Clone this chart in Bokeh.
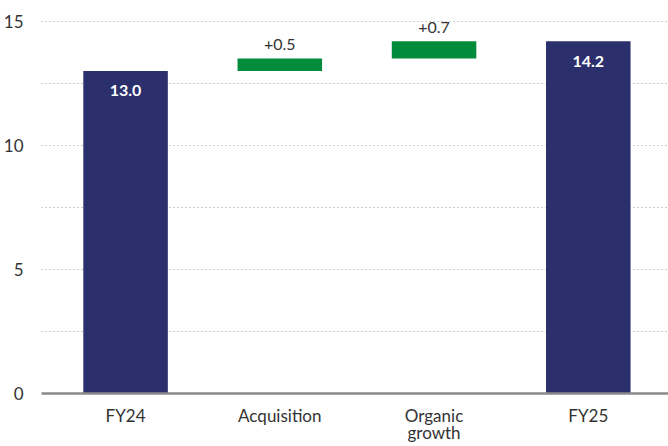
from bokeh.plotting import figure
from bokeh.models import ColumnDataSource, FixedTicker
from bokeh.core.properties import value
from bokeh.embed import file_html
from bokeh.resources import INLINE

# Waterfall: FY24 -> FY25 bridge
categories = ["FY24", "Acquisition", "Organic\ngrowth", "FY25"]
totals = {"FY24": 13.0, "FY25": 14.2}
changes = [0.5, 0.7]
change_labels = ["+0.5", "+0.7"]
y_ticks = [0, 5, 10, 15]
y_minor = [2.5, 7.5, 12.5]

FONT = "Lato"
NAVY = "#2b2f6b"
GREEN = "#008c3a"
TEXT = "#333333"

x_pos = list(range(len(categories)))

# total bars
total_src = ColumnDataSource(dict(
    x=[x_pos[0], x_pos[3]],
    top=[totals["FY24"], totals["FY25"]],
    label=[f"{totals['FY24']:.1f}", f"{totals['FY25']:.1f}"],
))

# floating change bars
bottoms = []
tops = []
running = totals["FY24"]
for c in changes:
    bottoms.append(running)
    running += c
    tops.append(running)
change_src = ColumnDataSource(dict(
    x=[x_pos[1], x_pos[2]],
    bottom=bottoms,
    top=tops,
    label=change_labels,
))

p = figure(width=668, height=446, output_backend="svg", toolbar_location=None,
           x_range=(-0.545, 3.52), y_range=(0, 15.84),
           min_border_left=39, min_border_right=0, min_border_top=0,
           min_border_bottom=10)
p.outline_line_color = None
p.background_fill_color = "white"
p.border_fill_color = "white"

bw = 0.548
p.vbar(x="x", top="top", bottom=0, width=bw, source=total_src,
       fill_color=NAVY, line_color=None)
p.vbar(x="x", top="top", bottom="bottom", width=bw, source=change_src,
       fill_color=GREEN, line_color=None)

p.text(x="x", y="top", text="label", source=total_src,
       text_font=value(FONT), text_font_size="16px", text_font_style="bold",
       text_color="white", text_align="center", text_baseline="middle",
       y_offset=20)
p.text(x="x", y="top", text="label", source=change_src,
       text_font=value(FONT), text_font_size="16px",
       text_color=TEXT, text_align="center", text_baseline="middle",
       y_offset=-14)

# category axis along the zero line
p.xaxis.ticker = FixedTicker(ticks=x_pos)
p.xaxis.major_label_overrides = {i: c for i, c in zip(x_pos, categories)}
p.xaxis.axis_line_color = "#8a8a8a"
p.xaxis.axis_line_width = 2.5
p.xaxis.major_tick_line_color = None
p.xaxis.minor_tick_line_color = None
p.xaxis.major_tick_out = 0
p.xaxis.minor_tick_out = 0
p.xaxis.major_label_text_font = FONT
p.xaxis.major_label_text_font_size = "17px"
p.xaxis.major_label_text_color = TEXT
p.xaxis.major_label_text_line_height = 0.84
p.xaxis.major_label_standoff = 11

p.yaxis.ticker = FixedTicker(ticks=y_ticks, minor_ticks=y_minor)
p.yaxis.axis_line_color = None
p.yaxis.major_tick_line_color = None
p.yaxis.minor_tick_line_color = None
p.yaxis.major_tick_out = 0
p.yaxis.major_label_text_font = FONT
p.yaxis.major_label_text_font_size = "17px"
p.yaxis.major_label_text_color = TEXT
p.yaxis.major_label_standoff = 14

p.xgrid.grid_line_color = None
p.ygrid.grid_line_color = "#9a9a9a"
p.ygrid.grid_line_dash = "1 3"
p.ygrid.grid_line_width = 1
p.ygrid.minor_grid_line_color = "#9a9a9a"
p.ygrid.minor_grid_line_dash = "1 3"
p.ygrid.minor_grid_line_width = 1

open("out.html", "w").write(file_html(p, INLINE))
